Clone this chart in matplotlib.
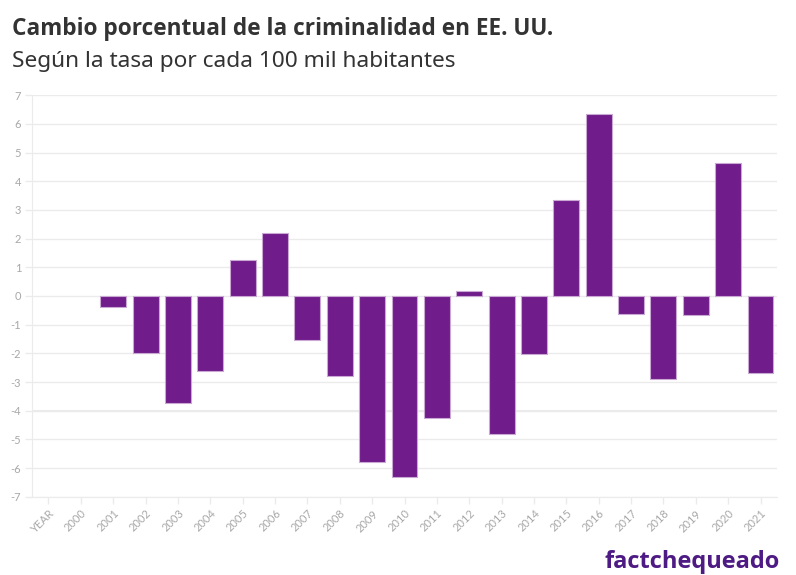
import matplotlib
matplotlib.use("Agg")
import matplotlib.pyplot as plt

# Categories as shown on the x axis (header row came through as a category)
Years = ["YEAR", "2000", "2001", "2002", "2003", "2004", "2005", "2006", "2007",
         "2008", "2009", "2010", "2011", "2012", "2013", "2014", "2015", "2016",
         "2017", "2018", "2019", "2020", "2021"]

# Percent change in crime rate (None = no bar)
Change = [None, None, -0.38, -1.98, -3.74, -2.63, 1.25, 2.21, -1.54,
          -2.78, -5.80, -6.31, -4.27, 0.17, -4.80, -2.01, 3.34, 6.36,
          -0.63, -2.89, -0.66, 4.64, -2.67]

YTicks = list(range(-7, 8))

BarColor = "#701c8a"
GridColor = "#ebebeb"
TickColor = "#a8a8a8"

plt.rcParams["font.family"] = ["Lato", "DejaVu Sans"]

fig = plt.figure(figsize=(7.96, 5.75), dpi=100)
ax = fig.add_axes([32.3 / 796, 1 - 496.7 / 575, (776.7 - 32.3) / 796, (496.7 - 95.3) / 575])

xs = [i for i, v in enumerate(Change) if v is not None]
vals = [v for v in Change if v is not None]
ax.bar(xs, vals, width=0.8, color=BarColor, edgecolor="#c9a8d3", linewidth=0.8, zorder=3)

ax.set_xlim(-0.5, len(Years) - 0.5)
ax.set_ylim(-7, 7)
ax.set_yticks(YTicks)
ax.set_yticklabels([str(t) for t in YTicks])
ax.set_xticks(range(len(Years)))
ax.set_xticklabels(Years, rotation=45, ha="right", rotation_mode="anchor")

ax.grid(axis="y", color=GridColor, linewidth=1, zorder=0)
ax.axhline(-4, color=GridColor, linewidth=1.5, zorder=0)
for s in ["top", "right"]:
    ax.spines[s].set_visible(False)
ax.spines["left"].set_color(GridColor)
ax.spines["bottom"].set_color(GridColor)
ax.tick_params(axis="both", colors=GridColor, labelcolor=TickColor, labelsize=8, length=5, width=1)
ax.tick_params(axis="x", pad=3)
ax.tick_params(axis="y", pad=3)

fig.text(12 / 796, 1 - 35 / 575, "Cambio porcentual de la criminalidad en EE. UU.",
         fontsize=16.3, fontweight="bold", color="#333333", va="baseline",
         family=["Open Sans", "DejaVu Sans"])
fig.text(12 / 796, 1 - 67 / 575, "Según la tasa por cada 100 mil habitantes",
         fontsize=16.3, color="#333333", va="baseline",
         family=["Noto Sans", "DejaVu Sans"])
fig.text(780 / 796, 1 - 568 / 575, "factchequeado",
         fontsize=17, fontweight="bold", color="#4e1a84", ha="right", va="baseline",
         family=["Open Sans", "DejaVu Sans"])

fig.savefig("out.png", dpi=100)
